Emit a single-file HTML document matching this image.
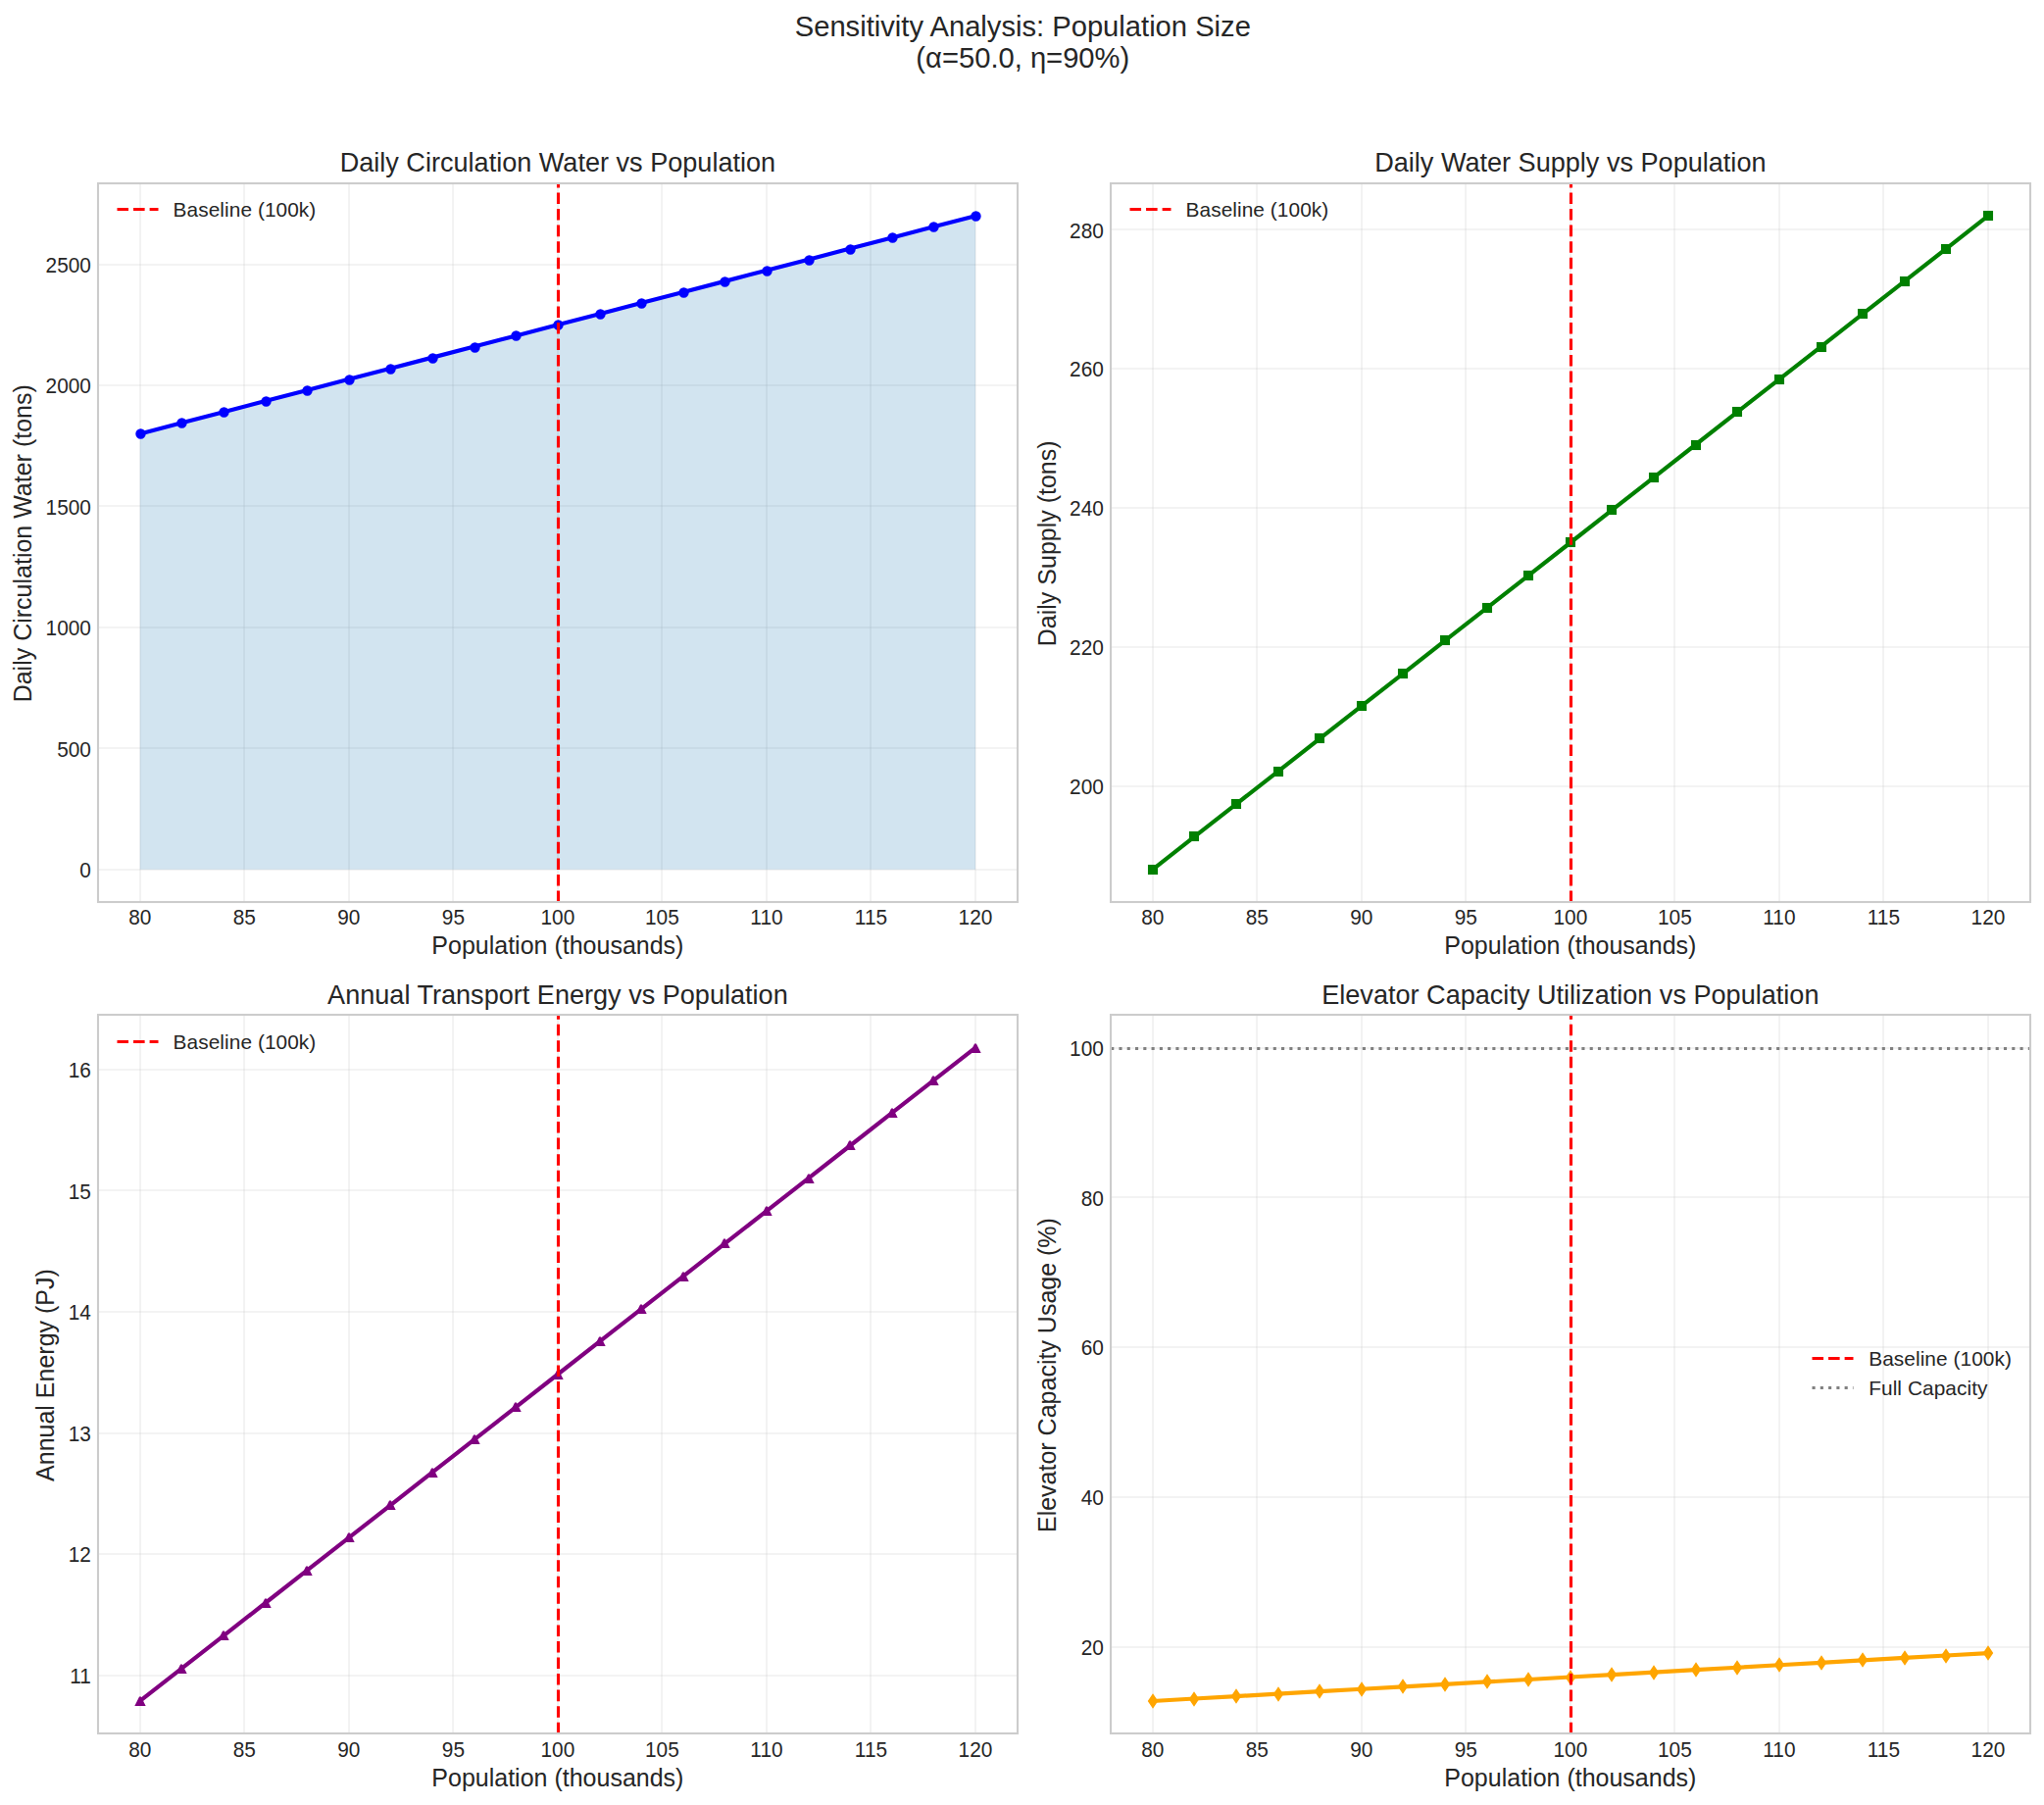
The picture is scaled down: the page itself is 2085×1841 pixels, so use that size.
<!DOCTYPE html>
<html lang="en"><head><meta charset="utf-8"><title>Sensitivity Analysis: Population Size</title>
<style>
html,body{margin:0;padding:0;background:#ffffff;}
body{width:2085px;height:1841px;overflow:hidden;}
svg{display:block;}
text{white-space:pre;}
</style></head><body>
<svg width="2085" height="1841" viewBox="0 0 2085 1841" font-family='"Liberation Sans", sans-serif' fill="#262626">
<rect width="2085" height="1841" fill="#ffffff"/>
<text x="1043.3" y="37" font-size="29.17" text-anchor="middle">Sensitivity Analysis: Population Size</text>
<text x="1043.3" y="69" font-size="29.17" text-anchor="middle">(α=50.0, η=90%)</text>
<g id="ax0">
<clipPath id="c0"><rect x="100.2" y="186.88" width="937.4" height="733.22"/></clipPath>
<path d="M143 186.88V920.1M249 186.88V920.1M356 186.88V920.1M462 186.88V920.1M569 186.88V920.1M675 186.88V920.1M782 186.88V920.1M888 186.88V920.1M995 186.88V920.1" stroke="#cccccc" stroke-opacity="0.3" stroke-width="1.67" fill="none"/>
<path d="M100.2 887H1037.6M100.2 763H1037.6M100.2 640H1037.6M100.2 516H1037.6M100.2 393H1037.6M100.2 270H1037.6" stroke="#cccccc" stroke-opacity="0.3" stroke-width="1.67" fill="none"/>
<polygon points="142.81,442.4 185.42,431.29 228.03,420.18 270.64,409.07 313.25,397.96 355.85,386.85 398.46,375.74 441.07,364.63 483.68,353.52 526.29,342.41 568.9,331.3 611.51,320.19 654.12,309.08 696.73,297.97 739.34,286.86 781.95,275.76 824.55,264.65 867.16,253.54 909.77,242.43 952.38,231.32 994.99,220.21 994.99,886.77 142.81,886.77" fill="#1f77b4" fill-opacity="0.2"/>
<g clip-path="url(#c0)">
<polyline points="142.81,442.4 185.42,431.29 228.03,420.18 270.64,409.07 313.25,397.96 355.85,386.85 398.46,375.74 441.07,364.63 483.68,353.52 526.29,342.41 568.9,331.3 611.51,320.19 654.12,309.08 696.73,297.97 739.34,286.86 781.95,275.76 824.55,264.65 867.16,253.54 909.77,242.43 952.38,231.32 994.99,220.21" fill="none" stroke="#0000ff" stroke-width="4.17" stroke-linecap="round" stroke-linejoin="round"/>
<g fill="#0000ff" stroke="#0000ff" stroke-width="2.08" stroke-linejoin="miter" stroke-miterlimit="2.08"><circle cx="143.5" cy="442.5" r="4.17"/><circle cx="185.5" cy="431.5" r="4.17"/><circle cx="228.5" cy="420.5" r="4.17"/><circle cx="271.5" cy="409.5" r="4.17"/><circle cx="313.5" cy="398.5" r="4.17"/><circle cx="356.5" cy="387.5" r="4.17"/><circle cx="398.5" cy="376.5" r="4.17"/><circle cx="441.5" cy="365.5" r="4.17"/><circle cx="484.5" cy="354.5" r="4.17"/><circle cx="526.5" cy="342.5" r="4.17"/><circle cx="569.5" cy="331.5" r="4.17"/><circle cx="612.5" cy="320.5" r="4.17"/><circle cx="654.5" cy="309.5" r="4.17"/><circle cx="697.5" cy="298.5" r="4.17"/><circle cx="739.5" cy="287.5" r="4.17"/><circle cx="782.5" cy="276.5" r="4.17"/><circle cx="825.5" cy="265.5" r="4.17"/><circle cx="867.5" cy="254.5" r="4.17"/><circle cx="910.5" cy="242.5" r="4.17"/><circle cx="952.5" cy="231.5" r="4.17"/><circle cx="995.5" cy="220.5" r="4.17"/></g>
<path d="M569.5 920.1V186.88" stroke="#ff0000" stroke-width="3.12" stroke-dasharray="11.56 5" fill="none"/>
</g>
<rect x="100" y="187" width="938" height="733" fill="none" stroke="#cccccc" stroke-width="2.08"/>
<text transform="translate(142.81 943) scale(1 1.04)" font-size="20.83" text-anchor="middle">80</text>
<text transform="translate(249.33 943) scale(1 1.04)" font-size="20.83" text-anchor="middle">85</text>
<text transform="translate(355.85 943) scale(1 1.04)" font-size="20.83" text-anchor="middle">90</text>
<text transform="translate(462.38 943) scale(1 1.04)" font-size="20.83" text-anchor="middle">95</text>
<text transform="translate(568.9 943) scale(1 1.04)" font-size="20.83" text-anchor="middle">100</text>
<text transform="translate(675.42 943) scale(1 1.04)" font-size="20.83" text-anchor="middle">105</text>
<text transform="translate(781.95 943) scale(1 1.04)" font-size="20.83" text-anchor="middle">110</text>
<text transform="translate(888.47 943) scale(1 1.04)" font-size="20.83" text-anchor="middle">115</text>
<text transform="translate(994.99 943) scale(1 1.04)" font-size="20.83" text-anchor="middle">120</text>
<text transform="translate(92.9 895) scale(1 1.04)" font-size="20.83" text-anchor="end">0</text>
<text transform="translate(92.9 772) scale(1 1.04)" font-size="20.83" text-anchor="end">500</text>
<text transform="translate(92.9 648) scale(1 1.04)" font-size="20.83" text-anchor="end">1000</text>
<text transform="translate(92.9 525) scale(1 1.04)" font-size="20.83" text-anchor="end">1500</text>
<text transform="translate(92.9 401) scale(1 1.04)" font-size="20.83" text-anchor="end">2000</text>
<text transform="translate(92.9 278) scale(1 1.04)" font-size="20.83" text-anchor="end">2500</text>
<text x="568.9" y="973" font-size="25" text-anchor="middle">Population (thousands)</text>
<text x="31.6" y="554.29" font-size="25" text-anchor="middle" transform="rotate(-90 31.6 554.29)">Daily Circulation Water (tons)</text>
<text x="568.9" y="175" font-size="27.08" text-anchor="middle">Daily Circulation Water vs Population</text>
<path d="M119.5 213.5H161.5" stroke="#ff0000" stroke-width="3.12" stroke-dasharray="11.56 5" fill="none"/>
<text x="176.6" y="221" font-size="20.83" text-anchor="start" letter-spacing="0.07">Baseline (100k)</text>
</g>
<g id="ax1">
<clipPath id="c1"><rect x="1133.15" y="186.88" width="937.4" height="733.22"/></clipPath>
<path d="M1176 186.88V920.1M1282 186.88V920.1M1389 186.88V920.1M1495 186.88V920.1M1602 186.88V920.1M1708 186.88V920.1M1815 186.88V920.1M1921 186.88V920.1M2028 186.88V920.1" stroke="#cccccc" stroke-opacity="0.3" stroke-width="1.67" fill="none"/>
<path d="M1133.15 802H2070.55M1133.15 660H2070.55M1133.15 518H2070.55M1133.15 376H2070.55M1133.15 234H2070.55" stroke="#cccccc" stroke-opacity="0.3" stroke-width="1.67" fill="none"/>
<g clip-path="url(#c1)">
<polyline points="1175.76,886.77 1218.37,853.44 1260.98,820.12 1303.59,786.79 1346.2,753.46 1388.8,720.13 1431.41,686.8 1474.02,653.47 1516.63,620.15 1559.24,586.82 1601.85,553.49 1644.46,520.16 1687.07,486.83 1729.68,453.51 1772.29,420.18 1814.9,386.85 1857.5,353.52 1900.11,320.19 1942.72,286.86 1985.33,253.54 2027.94,220.21" fill="none" stroke="#008000" stroke-width="4.17" stroke-linecap="round" stroke-linejoin="round"/>
<g fill="#008000" stroke="#008000" stroke-width="2.08" stroke-linejoin="miter" stroke-miterlimit="2.08"><rect x="1172" y="883" width="8" height="8"/><rect x="1214" y="849" width="8" height="8"/><rect x="1257" y="816" width="8" height="8"/><rect x="1300" y="783" width="8" height="8"/><rect x="1342" y="749" width="8" height="8"/><rect x="1385" y="716" width="8" height="8"/><rect x="1427" y="683" width="8" height="8"/><rect x="1470" y="649" width="8" height="8"/><rect x="1513" y="616" width="8" height="8"/><rect x="1555" y="583" width="8" height="8"/><rect x="1598" y="549" width="8" height="8"/><rect x="1640" y="516" width="8" height="8"/><rect x="1683" y="483" width="8" height="8"/><rect x="1726" y="450" width="8" height="8"/><rect x="1768" y="416" width="8" height="8"/><rect x="1811" y="383" width="8" height="8"/><rect x="1854" y="350" width="8" height="8"/><rect x="1896" y="316" width="8" height="8"/><rect x="1939" y="283" width="8" height="8"/><rect x="1981" y="250" width="8" height="8"/><rect x="2024" y="216" width="8" height="8"/></g>
<path d="M1602.5 920.1V186.88" stroke="#ff0000" stroke-width="3.12" stroke-dasharray="11.56 5" fill="none"/>
</g>
<rect x="1133" y="187" width="938" height="733" fill="none" stroke="#cccccc" stroke-width="2.08"/>
<text transform="translate(1175.76 943) scale(1 1.04)" font-size="20.83" text-anchor="middle">80</text>
<text transform="translate(1282.28 943) scale(1 1.04)" font-size="20.83" text-anchor="middle">85</text>
<text transform="translate(1388.8 943) scale(1 1.04)" font-size="20.83" text-anchor="middle">90</text>
<text transform="translate(1495.33 943) scale(1 1.04)" font-size="20.83" text-anchor="middle">95</text>
<text transform="translate(1601.85 943) scale(1 1.04)" font-size="20.83" text-anchor="middle">100</text>
<text transform="translate(1708.37 943) scale(1 1.04)" font-size="20.83" text-anchor="middle">105</text>
<text transform="translate(1814.9 943) scale(1 1.04)" font-size="20.83" text-anchor="middle">110</text>
<text transform="translate(1921.42 943) scale(1 1.04)" font-size="20.83" text-anchor="middle">115</text>
<text transform="translate(2027.94 943) scale(1 1.04)" font-size="20.83" text-anchor="middle">120</text>
<text transform="translate(1125.85 810) scale(1 1.04)" font-size="20.83" text-anchor="end">200</text>
<text transform="translate(1125.85 668) scale(1 1.04)" font-size="20.83" text-anchor="end">220</text>
<text transform="translate(1125.85 526) scale(1 1.04)" font-size="20.83" text-anchor="end">240</text>
<text transform="translate(1125.85 384) scale(1 1.04)" font-size="20.83" text-anchor="end">260</text>
<text transform="translate(1125.85 243) scale(1 1.04)" font-size="20.83" text-anchor="end">280</text>
<text x="1601.85" y="973" font-size="25" text-anchor="middle">Population (thousands)</text>
<text x="1076.8" y="554.29" font-size="25" text-anchor="middle" transform="rotate(-90 1076.8 554.29)">Daily Supply (tons)</text>
<text x="1601.85" y="175" font-size="27.08" text-anchor="middle">Daily Water Supply vs Population</text>
<path d="M1152.5 213.5H1194.5" stroke="#ff0000" stroke-width="3.12" stroke-dasharray="11.56 5" fill="none"/>
<text x="1209.55" y="221" font-size="20.83" text-anchor="start" letter-spacing="0.07">Baseline (100k)</text>
</g>
<g id="ax2">
<clipPath id="c2"><rect x="100.2" y="1035.2" width="937.4" height="733.1"/></clipPath>
<path d="M143 1035.2V1768.3M249 1035.2V1768.3M356 1035.2V1768.3M462 1035.2V1768.3M569 1035.2V1768.3M675 1035.2V1768.3M782 1035.2V1768.3M888 1035.2V1768.3M995 1035.2V1768.3" stroke="#cccccc" stroke-opacity="0.3" stroke-width="1.67" fill="none"/>
<path d="M100.2 1709H1037.6M100.2 1585H1037.6M100.2 1462H1037.6M100.2 1338H1037.6M100.2 1214H1037.6M100.2 1091H1037.6" stroke="#cccccc" stroke-opacity="0.3" stroke-width="1.67" fill="none"/>
<g clip-path="url(#c2)">
<polyline points="142.81,1734.98 185.42,1701.65 228.03,1668.33 270.64,1635.01 313.25,1601.69 355.85,1568.36 398.46,1535.04 441.07,1501.72 483.68,1468.4 526.29,1435.07 568.9,1401.75 611.51,1368.43 654.12,1335.1 696.73,1301.78 739.34,1268.46 781.95,1235.14 824.55,1201.81 867.16,1168.49 909.77,1135.17 952.38,1101.85 994.99,1068.52" fill="none" stroke="#800080" stroke-width="4.17" stroke-linecap="round" stroke-linejoin="round"/>
<g fill="#800080" stroke="#800080" stroke-width="2.08" stroke-linejoin="miter" stroke-miterlimit="2.08"><path d="M143 1731L139 1739L147 1739Z"/><path d="M185 1698L181 1706L189 1706Z"/><path d="M228 1664L224 1672L232 1672Z"/><path d="M271 1631L267 1639L275 1639Z"/><path d="M313 1598L309 1606L317 1606Z"/><path d="M356 1564L352 1572L360 1572Z"/><path d="M398 1531L394 1539L402 1539Z"/><path d="M441 1498L437 1506L445 1506Z"/><path d="M484 1464L480 1472L488 1472Z"/><path d="M526 1431L522 1439L530 1439Z"/><path d="M569 1398L565 1406L573 1406Z"/><path d="M612 1364L608 1372L616 1372Z"/><path d="M654 1331L650 1339L658 1339Z"/><path d="M697 1298L693 1306L701 1306Z"/><path d="M739 1264L735 1272L743 1272Z"/><path d="M782 1231L778 1239L786 1239Z"/><path d="M825 1198L821 1206L829 1206Z"/><path d="M867 1164L863 1172L871 1172Z"/><path d="M910 1131L906 1139L914 1139Z"/><path d="M952 1098L948 1106L956 1106Z"/><path d="M995 1065L991 1073L999 1073Z"/></g>
<path d="M569.5 1768.3V1035.2" stroke="#ff0000" stroke-width="3.12" stroke-dasharray="11.56 5" fill="none"/>
</g>
<rect x="100" y="1035" width="938" height="733" fill="none" stroke="#cccccc" stroke-width="2.08"/>
<text transform="translate(142.81 1792) scale(1 1.04)" font-size="20.83" text-anchor="middle">80</text>
<text transform="translate(249.33 1792) scale(1 1.04)" font-size="20.83" text-anchor="middle">85</text>
<text transform="translate(355.85 1792) scale(1 1.04)" font-size="20.83" text-anchor="middle">90</text>
<text transform="translate(462.38 1792) scale(1 1.04)" font-size="20.83" text-anchor="middle">95</text>
<text transform="translate(568.9 1792) scale(1 1.04)" font-size="20.83" text-anchor="middle">100</text>
<text transform="translate(675.42 1792) scale(1 1.04)" font-size="20.83" text-anchor="middle">105</text>
<text transform="translate(781.95 1792) scale(1 1.04)" font-size="20.83" text-anchor="middle">110</text>
<text transform="translate(888.47 1792) scale(1 1.04)" font-size="20.83" text-anchor="middle">115</text>
<text transform="translate(994.99 1792) scale(1 1.04)" font-size="20.83" text-anchor="middle">120</text>
<text transform="translate(92.9 1717) scale(1 1.04)" font-size="20.83" text-anchor="end">11</text>
<text transform="translate(92.9 1593) scale(1 1.04)" font-size="20.83" text-anchor="end">12</text>
<text transform="translate(92.9 1470) scale(1 1.04)" font-size="20.83" text-anchor="end">13</text>
<text transform="translate(92.9 1346) scale(1 1.04)" font-size="20.83" text-anchor="end">14</text>
<text transform="translate(92.9 1223) scale(1 1.04)" font-size="20.83" text-anchor="end">15</text>
<text transform="translate(92.9 1099) scale(1 1.04)" font-size="20.83" text-anchor="end">16</text>
<text x="568.9" y="1822" font-size="25" text-anchor="middle">Population (thousands)</text>
<text x="55" y="1402.55" font-size="25" text-anchor="middle" transform="rotate(-90 55 1402.55)">Annual Energy (PJ)</text>
<text x="568.9" y="1024" font-size="27.08" text-anchor="middle">Annual Transport Energy vs Population</text>
<path d="M119.5 1062.5H161.5" stroke="#ff0000" stroke-width="3.12" stroke-dasharray="11.56 5" fill="none"/>
<text x="176.6" y="1070" font-size="20.83" text-anchor="start" letter-spacing="0.07">Baseline (100k)</text>
</g>
<g id="ax3">
<clipPath id="c3"><rect x="1133.15" y="1035.2" width="937.4" height="733.1"/></clipPath>
<path d="M1176 1035.2V1768.3M1282 1035.2V1768.3M1389 1035.2V1768.3M1495 1035.2V1768.3M1602 1035.2V1768.3M1708 1035.2V1768.3M1815 1035.2V1768.3M1921 1035.2V1768.3M2028 1035.2V1768.3" stroke="#cccccc" stroke-opacity="0.3" stroke-width="1.67" fill="none"/>
<path d="M1133.15 1680H2070.55M1133.15 1527H2070.55M1133.15 1374H2070.55M1133.15 1221H2070.55M1133.15 1069H2070.55" stroke="#cccccc" stroke-opacity="0.3" stroke-width="1.67" fill="none"/>
<g clip-path="url(#c3)">
<polyline points="1175.76,1734.98 1218.37,1732.53 1260.98,1730.09 1303.59,1727.64 1346.2,1725.19 1388.8,1722.75 1431.41,1720.3 1474.02,1717.86 1516.63,1715.41 1559.24,1712.97 1601.85,1710.52 1644.46,1708.07 1687.07,1705.63 1729.68,1703.18 1772.29,1700.74 1814.9,1698.29 1857.5,1695.85 1900.11,1693.4 1942.72,1690.95 1985.33,1688.51 2027.94,1686.06" fill="none" stroke="#ffa500" stroke-width="4.17" stroke-linecap="round" stroke-linejoin="round"/>
<g fill="#ffa500" stroke="#ffa500" stroke-width="2.08" stroke-linejoin="miter" stroke-miterlimit="2.08"><path d="M1176 1729L1180 1735L1176 1741L1172 1735Z"/><path d="M1218 1727L1222 1733L1218 1739L1214 1733Z"/><path d="M1261 1724L1265 1730L1261 1736L1257 1730Z"/><path d="M1304 1722L1308 1728L1304 1734L1300 1728Z"/><path d="M1346 1719L1350 1725L1346 1731L1342 1725Z"/><path d="M1389 1717L1393 1723L1389 1729L1385 1723Z"/><path d="M1431 1714L1435 1720L1431 1726L1427 1720Z"/><path d="M1474 1712L1478 1718L1474 1724L1470 1718Z"/><path d="M1517 1709L1521 1715L1517 1721L1513 1715Z"/><path d="M1559 1707L1563 1713L1559 1719L1555 1713Z"/><path d="M1602 1705L1606 1711L1602 1717L1598 1711Z"/><path d="M1644 1702L1648 1708L1644 1714L1640 1708Z"/><path d="M1687 1700L1691 1706L1687 1712L1683 1706Z"/><path d="M1730 1697L1734 1703L1730 1709L1726 1703Z"/><path d="M1772 1695L1776 1701L1772 1707L1768 1701Z"/><path d="M1815 1692L1819 1698L1815 1704L1811 1698Z"/><path d="M1858 1690L1862 1696L1858 1702L1854 1696Z"/><path d="M1900 1687L1904 1693L1900 1699L1896 1693Z"/><path d="M1943 1685L1947 1691L1943 1697L1939 1691Z"/><path d="M1985 1683L1989 1689L1985 1695L1981 1689Z"/><path d="M2028 1680L2032 1686L2028 1692L2024 1686Z"/></g>
<path d="M1133.15 1069.5H2070.55" stroke="#808080" stroke-width="3.12" stroke-dasharray="3.12 5.16" fill="none"/>
<path d="M1602.5 1768.3V1035.2" stroke="#ff0000" stroke-width="3.12" stroke-dasharray="11.56 5" fill="none"/>
</g>
<rect x="1133" y="1035" width="938" height="733" fill="none" stroke="#cccccc" stroke-width="2.08"/>
<text transform="translate(1175.76 1792) scale(1 1.04)" font-size="20.83" text-anchor="middle">80</text>
<text transform="translate(1282.28 1792) scale(1 1.04)" font-size="20.83" text-anchor="middle">85</text>
<text transform="translate(1388.8 1792) scale(1 1.04)" font-size="20.83" text-anchor="middle">90</text>
<text transform="translate(1495.33 1792) scale(1 1.04)" font-size="20.83" text-anchor="middle">95</text>
<text transform="translate(1601.85 1792) scale(1 1.04)" font-size="20.83" text-anchor="middle">100</text>
<text transform="translate(1708.37 1792) scale(1 1.04)" font-size="20.83" text-anchor="middle">105</text>
<text transform="translate(1814.9 1792) scale(1 1.04)" font-size="20.83" text-anchor="middle">110</text>
<text transform="translate(1921.42 1792) scale(1 1.04)" font-size="20.83" text-anchor="middle">115</text>
<text transform="translate(2027.94 1792) scale(1 1.04)" font-size="20.83" text-anchor="middle">120</text>
<text transform="translate(1125.85 1688) scale(1 1.04)" font-size="20.83" text-anchor="end">20</text>
<text transform="translate(1125.85 1535) scale(1 1.04)" font-size="20.83" text-anchor="end">40</text>
<text transform="translate(1125.85 1382) scale(1 1.04)" font-size="20.83" text-anchor="end">60</text>
<text transform="translate(1125.85 1230) scale(1 1.04)" font-size="20.83" text-anchor="end">80</text>
<text transform="translate(1125.85 1077) scale(1 1.04)" font-size="20.83" text-anchor="end">100</text>
<text x="1601.85" y="1822" font-size="25" text-anchor="middle">Population (thousands)</text>
<text x="1076.8" y="1402.55" font-size="25" text-anchor="middle" transform="rotate(-90 1076.8 1402.55)">Elevator Capacity Usage (%)</text>
<text x="1601.85" y="1024" font-size="27.08" text-anchor="middle">Elevator Capacity Utilization vs Population</text>
<path d="M1848.5 1385.5H1890.5" stroke="#ff0000" stroke-width="3.12" stroke-dasharray="11.56 5" fill="none"/>
<text x="1906.2" y="1393" font-size="20.83" text-anchor="start" letter-spacing="0.07">Baseline (100k)</text>
<path d="M1848.5 1415.5H1890.5" stroke="#808080" stroke-width="3.12" stroke-dasharray="3.12 5.16" fill="none"/>
<text x="1906.2" y="1423" font-size="20.83" text-anchor="start" letter-spacing="0.07">Full Capacity</text>
</g>
</svg>
</body></html>
